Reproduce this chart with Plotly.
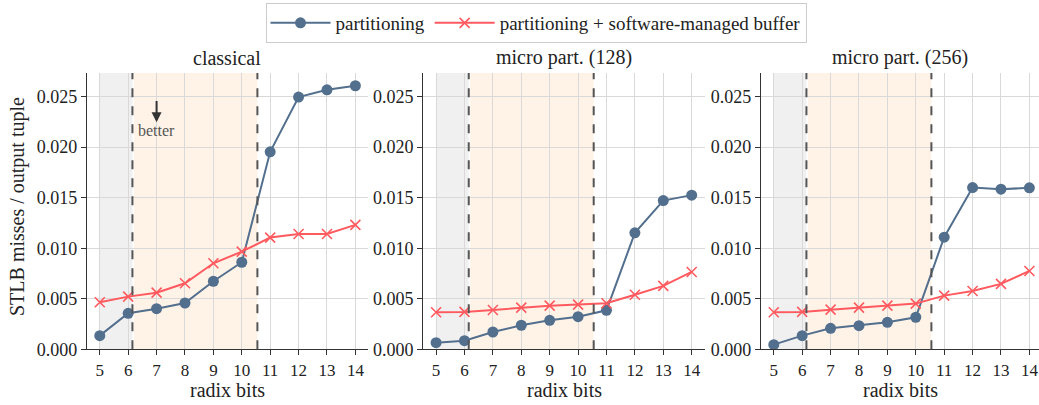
import plotly.graph_objects as go

radix_bits = [5, 6, 7, 8, 9, 10, 11, 12, 13, 14]
panel_titles = ["classical", "micro part. (128)", "micro part. (256)"]

part_classical = [0.00135, 0.00356, 0.00402, 0.00458, 0.00673, 0.00861, 0.01953, 0.02495, 0.02567, 0.02607]
swb_classical = [0.00465, 0.00521, 0.00560, 0.00653, 0.00851, 0.00966, 0.01105, 0.01141, 0.01141, 0.01231]

part_micro128 = [0.00065, 0.00085, 0.00171, 0.00238, 0.00287, 0.00323, 0.00386, 0.01152, 0.01471, 0.01525]
swb_micro128 = [0.00366, 0.00370, 0.00389, 0.00412, 0.00432, 0.00442, 0.00455, 0.00540, 0.00627, 0.00765]

part_micro256 = [0.00046, 0.00135, 0.00208, 0.00234, 0.00267, 0.00317, 0.01109, 0.01600, 0.01584, 0.01597]
swb_micro256 = [0.00366, 0.00370, 0.00392, 0.00412, 0.00432, 0.00452, 0.00531, 0.00577, 0.00647, 0.00775]

grey_region = (5.0, 6.15)
orange_region = (6.15, 10.55)
y_ticks = [0.0, 0.005, 0.010, 0.015, 0.020, 0.025]

series_part = [part_classical, part_micro128, part_micro256]
series_swb = [swb_classical, swb_micro128, swb_micro256]

W, H = 1039, 405
FONT = "Liberation Serif"
BLUE = "#536f8e"
RED = "#ff5a5f"

# pixel layout of panels
panels_px = [(87, 367.5), (423.3, 705), (761, 1039)]
top_px, bot_px = 73, 349.3
xpx_per_unit = 28.4

fig = go.Figure()
layout_axes = {}
shapes = []
annotations = []

for i in range(3):
    xa = "x" if i == 0 else f"x{i+1}"
    ya = "y" if i == 0 else f"y{i+1}"
    l, r = panels_px[i]
    x0 = 4.55
    x1 = x0 + (r - l) / xpx_per_unit
    fig.add_trace(go.Scatter(
        x=radix_bits, y=series_part[i], mode="lines+markers",
        name="partitioning", legendgroup="p", showlegend=(i == 0),
        line=dict(color=BLUE, width=2), marker=dict(symbol="circle", size=11, color=BLUE),
        xaxis=xa, yaxis=ya))
    fig.add_trace(go.Scatter(
        x=radix_bits, y=series_swb[i], mode="lines+markers",
        name="partitioning + software-managed buffer", legendgroup="s", showlegend=(i == 0),
        line=dict(color=RED, width=2),
        marker=dict(symbol="x-thin", size=10, color=RED, line=dict(color=RED, width=1.6)),
        xaxis=xa, yaxis=ya))
    axkey = "xaxis" if i == 0 else f"xaxis{i+1}"
    aykey = "yaxis" if i == 0 else f"yaxis{i+1}"
    layout_axes[axkey] = dict(
        domain=[l / W, r / W], range=[x0, x1], anchor=ya,
        tickmode="array", tickvals=radix_bits, ticktext=[str(v) for v in radix_bits],
        showgrid=True, gridcolor="#d9d9d9", gridwidth=1, zeroline=False,
        showline=True, linecolor="#333333", linewidth=1.3,
        ticks="outside", ticklen=5, tickcolor="#333333",
        tickfont=dict(family=FONT, size=17, color="#222222"), automargin=False)
    layout_axes[aykey] = dict(
        domain=[(H - bot_px) / H, (H - top_px) / H], range=[0, 0.02733], anchor=xa,
        tickmode="array", tickvals=y_ticks, tickformat=".3f",
        showgrid=True, gridcolor="#d9d9d9", gridwidth=1, zeroline=False,
        showline=True, linecolor="#333333", linewidth=1.3,
        ticks="outside", ticklen=5, tickcolor="#333333",
        tickfont=dict(family=FONT, size=18, color="#222222"), automargin=False)

    shapes.append(dict(type="rect", xref=xa, yref=f"{ya} domain", x0=grey_region[0], x1=grey_region[1],
                       y0=0, y1=1, fillcolor="#f0f0f0", line=dict(width=0), layer="below"))
    shapes.append(dict(type="rect", xref=xa, yref=f"{ya} domain", x0=orange_region[0] + 0.05, x1=orange_region[1],
                       y0=0, y1=1, fillcolor="#fff3e8", line=dict(width=0), layer="below"))
    for xv in (grey_region[1], orange_region[1]):
        shapes.append(dict(type="line", xref=xa, yref=f"{ya} domain", x0=xv, x1=xv, y0=0, y1=1,
                           line=dict(color="#555555", width=2, dash="dash"), layer="above"))

    cx = (l + r) / 2 / W
    annotations.append(dict(text=panel_titles[i], x=cx, y=(H - 58) / H, xref="paper", yref="paper",
                            showarrow=False, font=dict(family=FONT, size=20, color="#222222"),
                            xanchor="center", yanchor="middle"))
    annotations.append(dict(text="radix bits", x=cx, y=(H - 390) / H, xref="paper", yref="paper",
                            showarrow=False, font=dict(family=FONT, size=20, color="#222222"),
                            xanchor="center", yanchor="middle"))

annotations.append(dict(text="STLB misses / output tuple", x=18 / W, y=(H - 207) / H, xref="paper", yref="paper",
                        showarrow=False, textangle=-90, font=dict(family=FONT, size=20, color="#222222"),
                        xanchor="center", yanchor="middle"))
# "better" arrow
annotations.append(dict(x=7, y=0.02245, ax=7, ay=0.0247, xref="x", yref="y", axref="x", ayref="y",
                        showarrow=True, arrowhead=2, arrowsize=1, arrowwidth=2, arrowcolor="#333333", text=""))
annotations.append(dict(text="better", x=7, y=0.0216, xref="x", yref="y", showarrow=False,
                        font=dict(family=FONT, size=16, color="#555555"), xanchor="center", yanchor="middle"))

fig.update_layout(
    width=W, height=H, margin=dict(l=0, r=0, t=0, b=0),
    plot_bgcolor="white", paper_bgcolor="white",
    shapes=shapes, annotations=annotations,
    legend=dict(orientation="h", x=536 / W, y=1 - 3 / H, xanchor="center", yanchor="top",
                bordercolor="#cccccc", borderwidth=1, bgcolor="white",
                font=dict(family=FONT, size=19, color="#222222"), itemwidth=60,
                tracegroupgap=0),
    **layout_axes)

fig.write_html("out.html")
